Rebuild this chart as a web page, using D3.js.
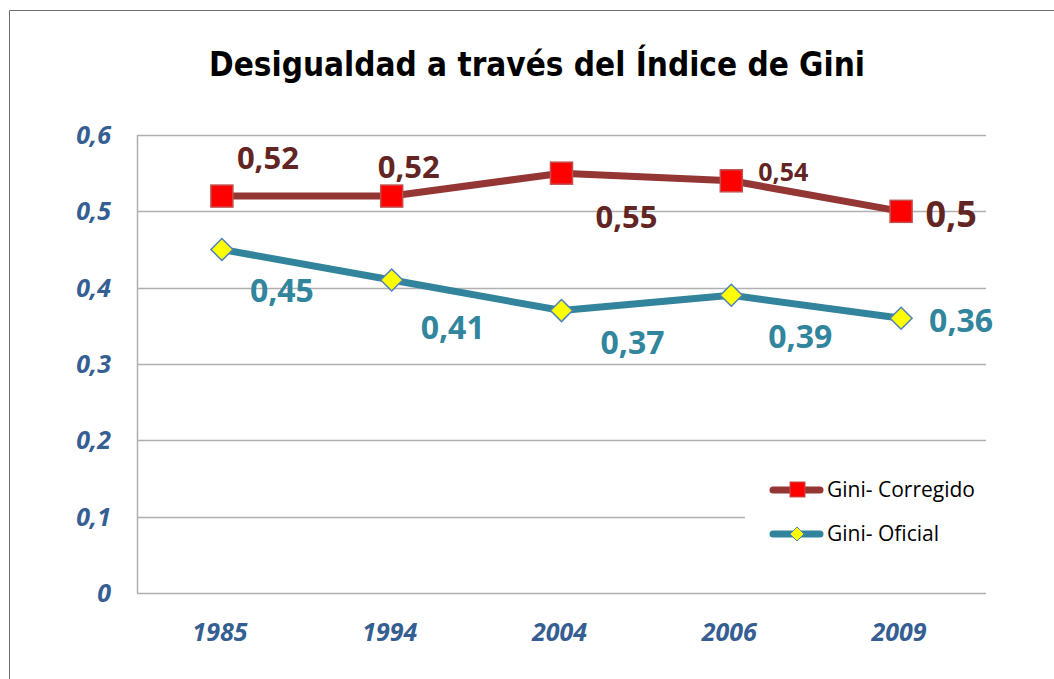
<!DOCTYPE html>
<html>
<head>
<meta charset="utf-8">
<script src="https://cdn.jsdelivr.net/npm/d3@7"></script>
<style>
  body { margin: 0; background: #fff; }
  svg { display: block; }
</style>
</head>
<body>
<div id="grafico"></div>
<script>
(function () {

    // Datos
    const years = ["1985", "1994", "2004", "2006", "2009"];
    const giniCorregido = [0.52, 0.52, 0.55, 0.54, 0.50];
    const giniOficial = [0.45, 0.41, 0.37, 0.39, 0.36];
    const yTicks = [0, 0.1, 0.2, 0.3, 0.4, 0.5, 0.6];
    const labelCorregido = ["0,52", "0,52", "0,55", "0,54", "0,5"];
    const labelOficial = ["0,45", "0,41", "0,37", "0,39", "0,36"];

    // Desplazamiento de las etiquetas (px) y tamaño de fuente
    const offCorregido = [[46, -38, 31], [17, -29, 31], [65, 44, 31], [52, -9, 25], [50, 3, 36]];
    const offOficial = [[60, 41, 32], [61, 48, 32], [71, 32, 32], [69, 41, 32], [60, 3, 32]];

    const width = 1054, height = 679;
    const left = 137, right = 986, top = 135, bottom = 593;

    const svg = d3.select('#grafico')
        .append('svg')
        .attr('width', width)
        .attr('height', height);

    // Borde exterior
    svg.append("path")
        .attr("d", `M9.5,${height} L9.5,10.5 L${width},10.5`)
        .attr("fill", "none")
        .attr("stroke", "#6b6b6b")
        .attr("stroke-width", 1);

    // Título
    svg.append("text")
        .attr("x", 537)
        .attr("y", 76)
        .attr("text-anchor", "middle")
        .attr("font-family", "DejaVu Sans Condensed, DejaVu Sans, sans-serif")
        .attr("font-weight", "bold")
        .attr("font-size", 33)
        .attr("fill", "#000")
        .text("Desigualdad a través del Índice de Gini");

    const x = d3.scaleBand()
        .domain(years)
        .range([left, right]);

    const y = d3.scaleLinear()
        .domain([0, 0.6])
        .range([bottom, top]);

    const cx = d => x(d) + x.bandwidth() / 2;

    // Líneas de cuadrícula
    svg.append("g")
        .selectAll("line")
        .data(yTicks.filter(t => t > 0))
        .join("line")
        .attr("x1", left)
        .attr("x2", t => t === 0.1 ? 745 : right)
        .attr("y1", t => Math.round(y(t)) + 0.5)
        .attr("y2", t => Math.round(y(t)) + 0.5)
        .attr("stroke", "#b0b0b0")
        .attr("stroke-width", 1.5);

    // Ejes
    svg.append("line")
        .attr("x1", left + 0.5).attr("x2", left + 0.5)
        .attr("y1", top).attr("y2", bottom)
        .attr("stroke", "#b0b0b0").attr("stroke-width", 1.5);
    svg.append("line")
        .attr("x1", left).attr("x2", right)
        .attr("y1", bottom + 0.5).attr("y2", bottom + 0.5)
        .attr("stroke", "#b0b0b0").attr("stroke-width", 1.5);

    const axisFont = "Open Sans, Lato, sans-serif";

    // Etiquetas eje Y
    svg.append("g")
        .selectAll("text")
        .data(yTicks)
        .join("text")
        .attr("x", 111)
        .attr("y", t => y(t) + 9)
        .attr("text-anchor", "end")
        .attr("font-family", axisFont)
        .attr("font-style", "italic")
        .attr("font-weight", "bold")
        .attr("font-size", 25)
        .attr("fill", "#355e92")
        .text(t => String(t).replace(".", ","));

    // Etiquetas eje X
    svg.append("g")
        .selectAll("text")
        .data(years)
        .join("text")
        .attr("x", d => cx(d) - 2)
        .attr("y", 641)
        .attr("text-anchor", "middle")
        .attr("font-family", axisFont)
        .attr("font-style", "italic")
        .attr("font-weight", "bold")
        .attr("font-size", 25)
        .attr("fill", "#355e92")
        .text(d => d);

    const line = d3.line()
        .x(d => cx(d.year))
        .y(d => y(d.value));

    const serieC = years.map((yr, i) => ({ year: yr, value: giniCorregido[i] }));
    const serieO = years.map((yr, i) => ({ year: yr, value: giniOficial[i] }));

    // Serie Gini- Corregido
    svg.append("path")
        .datum(serieC)
        .attr("d", line)
        .attr("fill", "none")
        .attr("stroke", "#943634")
        .attr("stroke-width", 7)
        .attr("stroke-linejoin", "round");

    // Serie Gini- Oficial
    svg.append("path")
        .datum(serieO)
        .attr("d", line)
        .attr("fill", "none")
        .attr("stroke", "#31849b")
        .attr("stroke-width", 7)
        .attr("stroke-linejoin", "round");

    // Marcadores cuadrados
    svg.append("g")
        .selectAll("rect")
        .data(serieC)
        .join("rect")
        .attr("x", d => cx(d.year) - 11)
        .attr("y", d => y(d.value) - 11)
        .attr("width", 22)
        .attr("height", 22)
        .attr("fill", "#ff0000")
        .attr("stroke", "#c0504d")
        .attr("stroke-width", 1.5);

    // Marcadores rombo
    const diamond = (px, py, r) => `M${px},${py - r} L${px + r},${py} L${px},${py + r} L${px - r},${py} Z`;
    svg.append("g")
        .selectAll("path")
        .data(serieO)
        .join("path")
        .attr("d", d => diamond(cx(d.year), y(d.value), 11))
        .attr("fill", "#ffff00")
        .attr("stroke", "#4f81bd")
        .attr("stroke-width", 1.5);

    const labelFont = "Open Sans, Lato, sans-serif";

    // Etiquetas de datos
    svg.append("g")
        .selectAll("text")
        .data(serieC)
        .join("text")
        .attr("x", (d, i) => cx(d.year) + offCorregido[i][0])
        .attr("y", (d, i) => y(d.value) + offCorregido[i][1])
        .attr("dy", "0.35em")
        .attr("text-anchor", "middle")
        .attr("font-family", labelFont)
        .attr("font-weight", "bold")
        .attr("font-size", (d, i) => offCorregido[i][2])
        .attr("fill", "#632523")
        .text((d, i) => labelCorregido[i]);

    svg.append("g")
        .selectAll("text")
        .data(serieO)
        .join("text")
        .attr("x", (d, i) => cx(d.year) + offOficial[i][0])
        .attr("y", (d, i) => y(d.value) + offOficial[i][1])
        .attr("dy", "0.35em")
        .attr("text-anchor", "middle")
        .attr("font-family", labelFont)
        .attr("font-weight", "bold")
        .attr("font-size", (d, i) => offOficial[i][2])
        .attr("fill", "#31859c")
        .text((d, i) => labelOficial[i]);

    // Leyenda
    const legend = [
        { name: "Gini- Corregido", color: "#943634", mark: "square", y: 490 },
        { name: "Gini- Oficial", color: "#31849b", mark: "diamond", y: 534 }
    ];
    const lg = svg.append("g");
    legend.forEach(l => {
        lg.append("line")
            .attr("x1", 773).attr("x2", 820)
            .attr("y1", l.y).attr("y2", l.y)
            .attr("stroke", l.color)
            .attr("stroke-width", 7)
            .attr("stroke-linecap", "round");
        if (l.mark === "square") {
            lg.append("rect")
                .attr("x", 790).attr("y", l.y - 8)
                .attr("width", 15).attr("height", 15)
                .attr("fill", "#ff0000")
                .attr("stroke", "#c0504d");
        } else {
            lg.append("path")
                .attr("d", diamond(797, l.y, 7))
                .attr("fill", "#ffff00")
                .attr("stroke", "#4f81bd");
        }
        lg.append("text")
            .attr("x", 827)
            .attr("y", l.y + 7)
            .attr("font-family", "Open Sans, Lato, sans-serif")
            .attr("font-size", 21)
            .attr("fill", "#000")
            .text(l.name);
    });
})();
</script>
</body>
</html>
